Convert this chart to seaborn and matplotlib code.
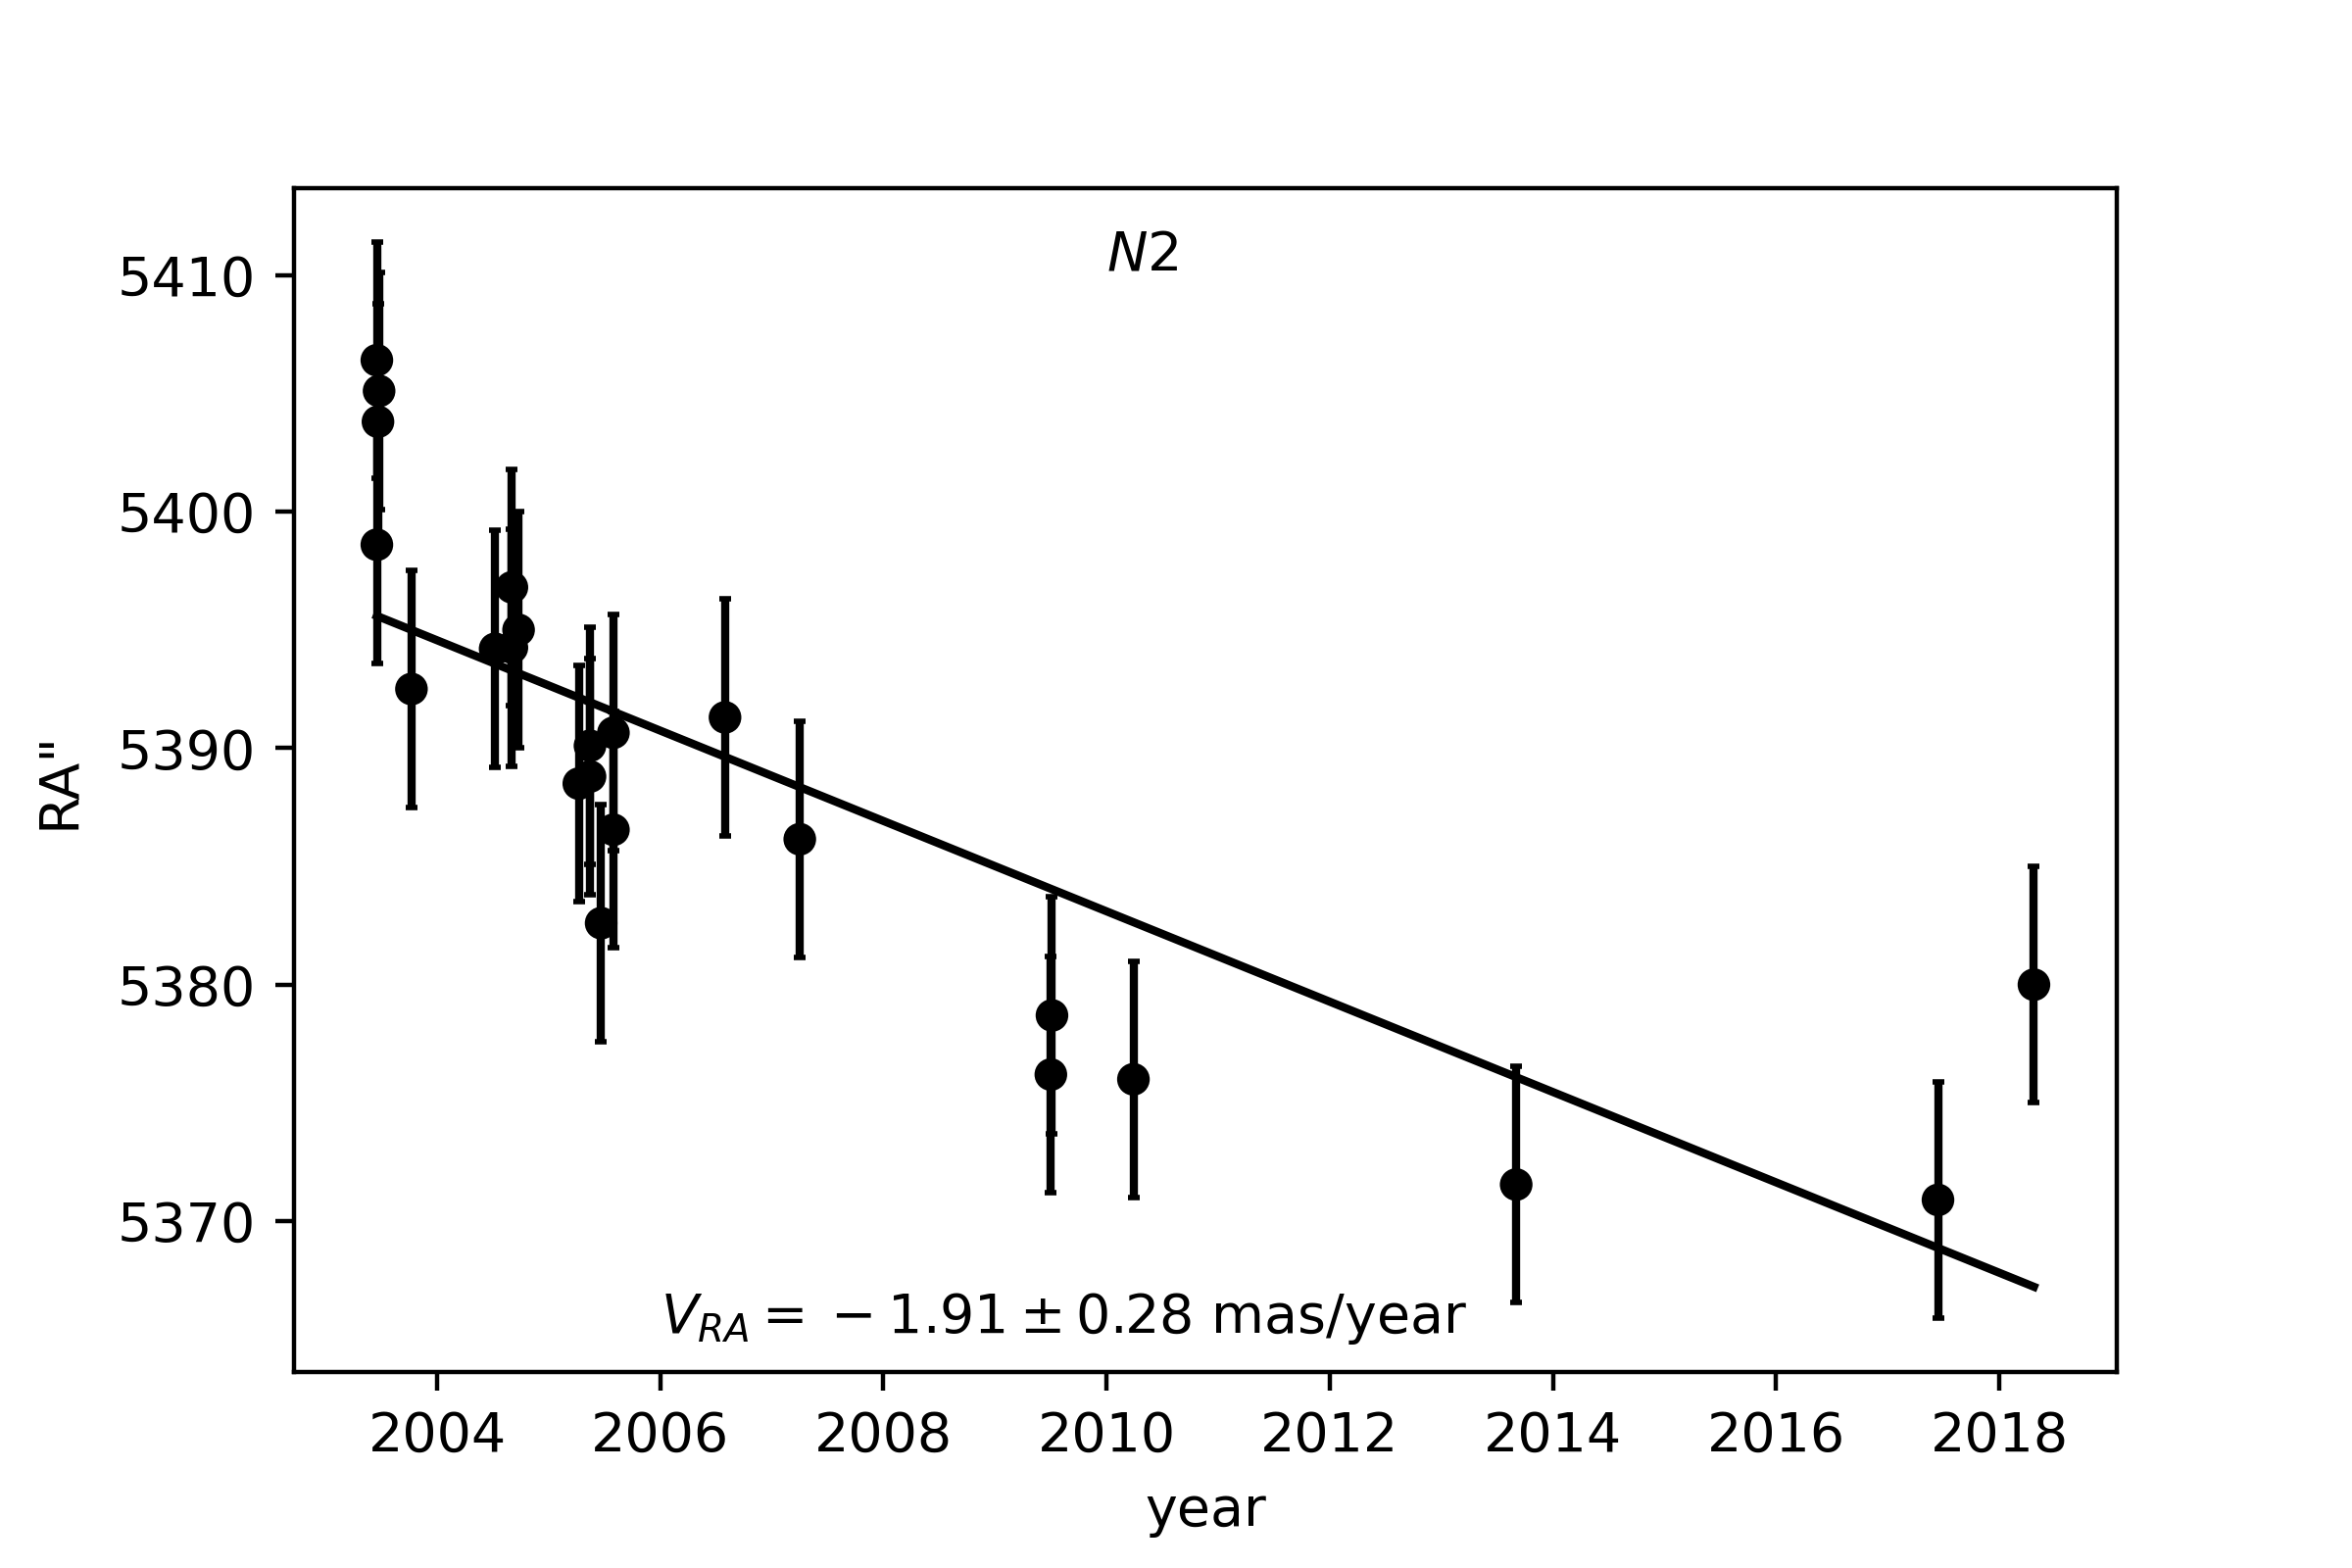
import numpy as np
import pandas as pd
import matplotlib
matplotlib.use('Agg')
import matplotlib.pyplot as plt
import seaborn as sns

# положения N2 по прямому восхождению
year = [2003.46, 2003.48, 2003.47, 2003.46, 2003.77,
        2004.52, 2004.67, 2004.67, 2004.73,
        2005.27, 2005.37, 2005.37, 2005.47, 2005.58, 2005.58,
        2006.58, 2007.25, 2009.51, 2009.50, 2010.24,
        2013.67, 2017.45, 2018.31]
ra = [5406.4, 5405.1, 5403.8, 5398.6, 5392.5,
      5394.2, 5396.8, 5394.25, 5395.0,
      5388.5, 5390.1, 5388.8, 5382.6, 5390.65, 5386.55,
      5391.3, 5386.15, 5378.7, 5376.2, 5376.0,
      5371.55, 5370.9, 5380.0]
ra_err = [5.0] * len(year)

# линейная аппроксимация
fit_slope = -1.91
fit_slope_err = 0.28
fit_at_2010 = 5383.1

df = pd.DataFrame({'year': year, 'ra': ra, 'err': ra_err})
t_fit = [min(year), max(year)]
fit_df = pd.DataFrame({'year': t_fit,
                       'ra': [fit_at_2010 + fit_slope * (t - 2010) for t in t_fit]})

fig, ax = plt.subplots(figsize=(6, 4), dpi=400)
fig.subplots_adjust(bottom=0.125)

ax.errorbar(df['year'], df['ra'], yerr=df['err'], fmt='none',
            ecolor='k', elinewidth=1.5, capsize=1)
sns.scatterplot(data=df, x='year', y='ra', color='k', s=36,
                edgecolor='none', ax=ax, zorder=3)
sns.lineplot(data=fit_df, x='year', y='ra', color='k', linewidth=1.5, ax=ax)

ax.text(2010, 5410.2, '$N2$')
# минус с пробелами как у бинарного оператора
ax.text(2006, 5365.3, r'$V_{RA} = \:-\: %.2f \pm %.2f$ mas/year' % (abs(fit_slope), fit_slope_err))

ax.set_xlabel('year')
ax.set_ylabel('RA"', labelpad=6)
ax.set_xticks([2004, 2006, 2008, 2010, 2012, 2014, 2016, 2018])

plt.savefig('out.png', dpi=400)
